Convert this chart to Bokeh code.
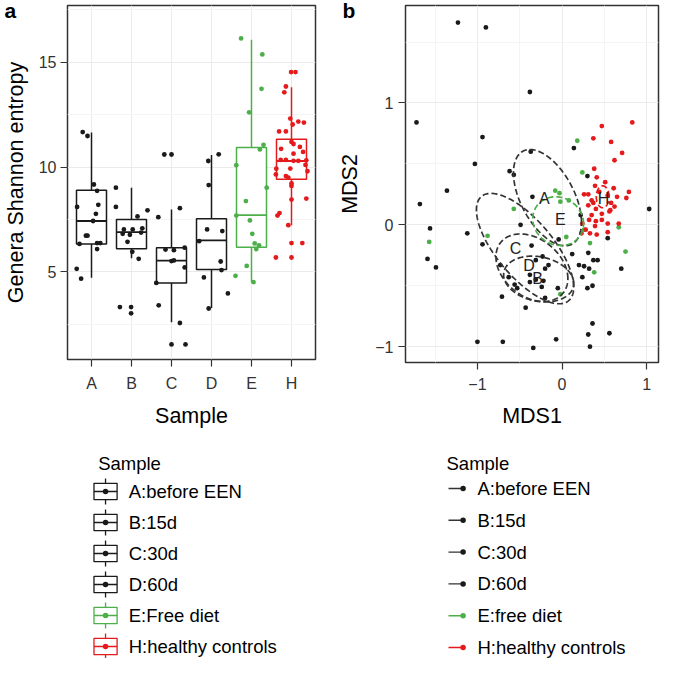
import numpy as np
from bokeh.plotting import figure
from bokeh.models import FixedTicker, Range1d, Title, ColumnDataSource
from bokeh.layouts import row, column
from bokeh.embed import file_html
from bokeh.resources import INLINE
from bokeh.core.properties import value

FONT = "Liberation Sans"
INK = "#1a1a1a"
GREEN = "#4DAF4A"
RED = "#E41A1C"
BORDER = "#333333"
GRID = "#EBEBEB"
GRID_MINOR = "#F4F4F4"

# ---------------- data ----------------
categories = ["A", "B", "C", "D", "E", "H"]
legend_a_labels = ["A:before EEN", "B:15d", "C:30d", "D:60d", "E:Free diet", "H:healthy controls"]
legend_b_labels = ["A:before EEN", "B:15d", "C:30d", "D:60d", "E:free diet", "H:healthy controls"]
group_colors = [INK, INK, INK, INK, GREEN, RED]

# box-plot statistics (Genera Shannon entropy)
lower_whisker = [4.72, 5.66, 2.60, 3.29, 4.51, 7.23]
q1 = [6.34, 6.11, 4.48, 5.12, 6.18, 9.42]
median = [7.43, 6.90, 5.54, 6.51, 7.71, 10.29]
q3 = [8.89, 7.50, 6.16, 7.54, 10.93, 11.33]
upper_whisker = [11.65, 9.02, 7.98, 10.58, 16.07, 13.81]

# individual samples (value, horizontal jitter in category units)
entropy_A = [11.67, 11.48, 9.17, 8.87, 8.20, 8.10, 7.77, 7.43, 6.73, 6.73, 6.34, 6.38, 6.38, 6.09, 5.15, 4.68]
jitter_A = [-0.22, -0.10, 0.06, 0.14, 0.17, -0.36, 0.11, 0.04, -0.14, -0.10, -0.30, 0.14, 0.22, 0.14, -0.37, -0.26]
entropy_B = [9.02, 8.10, 7.94, 7.65, 7.03, 7.03, 7.08, 6.88, 6.82, 6.77, 6.44, 5.96, 5.63, 3.33, 3.33, 3.03]
jitter_B = [-0.39, -0.39, 0.40, 0.15, -0.19, 0.03, 0.27, 0.24, -0.22, -0.04, -0.10, 0.02, 0.18, -0.29, -0.01, -0.01]
entropy_C = [10.60, 10.60, 8.04, 7.61, 6.07, 6.04, 6.16, 5.52, 5.55, 5.22, 4.48, 3.41, 2.57, 1.55, 1.55]
jitter_C = [-0.18, 0.00, 0.21, -0.33, -0.15, 0.06, 0.33, 0.00, 0.06, 0.33, -0.38, -0.32, 0.21, 0.00, 0.35]
entropy_D = [10.29, 10.61, 9.14, 7.03, 6.95, 6.47, 5.50, 5.09, 4.74, 3.98, 3.26]
jitter_D = [-0.08, 0.18, -0.07, -0.11, 0.27, -0.31, 0.23, 0.25, -0.19, 0.41, -0.07]
entropy_E = [16.13, 15.37, 13.73, 12.61, 11.06, 10.84, 10.09, 9.02, 8.38, 7.69, 7.46, 6.82, 6.36, 6.27, 6.09, 5.29, 4.82, 4.52]
jitter_E = [-0.26, 0.27, 0.25, -0.06, 0.30, 0.21, -0.38, 0.38, -0.14, -0.38, -0.04, 0.02, 0.08, 0.19, 0.12, -0.12, -0.40, 0.05]
entropy_H = [14.53, 14.53, 13.84, 13.56, 12.31, 12.17, 12.12, 12.03, 11.70, 11.70, 11.20, 11.10, 10.96,
             10.87, 10.72, 10.64, 10.34, 10.34, 10.30, 10.30, 10.32, 10.10, 9.92, 9.93, 9.80, 9.65, 9.57,
             9.50, 9.22, 9.10, 8.45, 8.50, 7.81, 7.69, 7.23, 6.38, 6.38, 5.69, 5.69]
jitter_H = [-0.01, 0.10, -0.14, -0.18, -0.03, 0.17, 0.31, 0.03, -0.31, -0.14, 0.00, 0.05, 0.21,
            -0.26, 0.29, 0.05, -0.27, -0.14, 0.05, 0.17, 0.37, 0.35, -0.38, -0.03, 0.40, -0.39, -0.14,
            -0.08, 0.00, 0.00, 0.00, 0.37, -0.30, -0.35, -0.08, 0.00, 0.27, -0.39, 0.00]

# MDS ordination (samples A-D drawn black, E green, H red)
mds1_AD = [-1.23, -0.90, -0.38, -1.72, -0.94, 0.14, -0.37, -1.03, -0.62, -0.57, 0.30, -1.36, -0.35,
           -1.68, 1.03, 0.22, -0.49, -1.56, -1.12, -1.59, -1.49, -0.94, -0.36, -0.04, 0.12, 0.31,
           0.54, 0.70, -0.23, -0.31, -0.16, -0.20, -0.73, -0.63, -0.38, -0.31, -0.22, -0.38, -0.24,
           -0.05, -0.56, -0.53, -0.20, 0.37, 0.42, 0.20, 0.26, 0.32, 0.24, 0.36, 0.30, -0.71, -0.43,
           0.36, 0.31, 0.56, -0.07, -1.00, -0.70, -0.34, 0.33]
mds2_AD = [1.66, 1.62, 1.09, 0.84, 0.72, 0.63, 0.60, 0.50, 0.44, 0.41, 0.40, 0.28, 0.23,
           0.17, 0.13, 0.08, 0.00, -0.03, -0.07, -0.28, -0.35, -0.16, -0.17, -0.12, -0.24, -0.23,
           -0.11, -0.36, -0.26, -0.29, -0.33, -0.36, -0.33, -0.43, -0.41, -0.45, -0.46, -0.47, -0.51,
           -0.52, -0.49, -0.52, -0.60, -0.29, -0.29, -0.33, -0.34, -0.36, -0.43, -0.50, -0.52, -0.59, -0.68,
           -0.81, -0.90, -0.89, -0.94, -0.96, -0.96, -1.01, -1.00]
mds1_E = [0.18, 0.24, -0.08, -0.03, -0.02, 0.08, -0.57, 0.67, -0.88, -1.57, 0.05, 0.33, 0.75, 0.38, -0.02, 0.26]
mds2_E = [0.69, 0.43, 0.28, 0.26, 0.19, 0.20, 0.13, -0.02, -0.09, -0.14, -0.10, -0.15, -0.22, -0.39, -0.57, -0.04]
mds1_H = [0.83, 0.47, 0.37, 0.58, 0.71, 0.62, 0.38, 0.41, 0.51, 0.39, 0.61, 0.79, 0.76, 0.26, 0.31,
          0.44, 0.54, 0.65, 0.35, 0.31, 0.40, 0.56, 0.62, 0.47, 0.35, 0.32, 0.40, 0.47, 0.54, 0.67,
          0.23, 0.33, 0.41, 0.54, 0.37, 0.39, 0.28, 0.58, 0.24, 0.57]
mds2_H = [0.84, 0.81, 0.71, 0.68, 0.59, 0.53, 0.46, 0.39, 0.35, 0.32, 0.30, 0.27, 0.22, 0.25, 0.25,
          0.27, 0.24, 0.23, 0.20, 0.16, 0.13, 0.11, 0.15, 0.09, 0.08, 0.04, 0.03, 0.04, 0.01, 0.01,
          -0.07, -0.07, -0.08, -0.06, 0.18, -0.01, -0.04, 0.18, 0.01, 0.12]

# group ellipses (centre, half-extents, correlation) and label positions
ell_groups = ["A", "B", "C", "D", "E", "H"]
ell_cx = [-0.172, -0.276, -0.437, -0.356, -0.046, 0.48]
ell_cy = [0.223, -0.445, -0.195, -0.352, 0.03, 0.23]
ell_hx = [0.402, 0.414, 0.575, 0.425, 0.30, 0.075]
ell_hy = [0.395, 0.188, 0.453, 0.277, 0.20, 0.09]
ell_r = [-0.514, -0.19, -0.70, -0.32, -0.10, 0.0]
label_x = [-0.21, -0.29, -0.55, -0.39, -0.02, 0.49]
label_y = [0.22, -0.44, -0.195, -0.33, 0.045, 0.22]

# ---------------- layout constants ----------------
W = 330
PLOT_H = 430
LEG_H = 228
A_LEFT, A_RIGHT, A_TOP, A_BOTTOM = 64, 15, 5, 66
B_LEFT, B_RIGHT, B_TOP, B_BOTTOM = 75, 2, 5, 59


def style_axes(p):
    for ax in p.axis:
        ax.axis_line_color = None
        ax.major_tick_line_color = BORDER
        ax.major_tick_line_width = 1.2
        ax.major_tick_out = 7
        ax.major_tick_in = 0
        ax.minor_tick_line_color = None
        ax.major_label_text_font = FONT
        ax.major_label_text_font_size = "16px"
        ax.major_label_text_color = "#333333"
        ax.axis_label_text_font = FONT
        ax.axis_label_text_font_size = "21.5px"
        ax.axis_label_text_font_style = "normal"
        ax.axis_label_text_color = "#000000"
    p.outline_line_color = BORDER
    p.outline_line_width = 1.5
    p.grid.grid_line_color = GRID
    p.grid.grid_line_width = 1
    p.grid.minor_grid_line_color = GRID_MINOR
    p.grid.minor_grid_line_width = 1
    p.background_fill_color = "white"
    p.border_fill_color = "white"


def panel_letter(p, letter, left_border, x):
    kw = dict(text=letter, align="left", offset=x - left_border, text_font=FONT,
              text_font_size="21px", text_font_style="bold", text_color="#000000",
              vertical_align="bottom")
    try:
        t = Title(standoff=-33, **kw)
    except Exception:
        t = Title(standoff=0, **kw)
    p.add_layout(t, "above")


# ---------------- panel a ----------------
pa = figure(width=W, height=PLOT_H, x_range=Range1d(0.4, 6.6), y_range=Range1d(0.83, 17.7),
            output_backend="svg", toolbar_location=None,
            min_border_left=A_LEFT, min_border_right=A_RIGHT, min_border_top=A_TOP, min_border_bottom=A_BOTTOM)
style_axes(pa)
pos = list(range(1, len(categories) + 1))
pa.xaxis.ticker = FixedTicker(ticks=pos, minor_ticks=[])
pa.xaxis.major_label_overrides = {i: c for i, c in zip(pos, categories)}
pa.yaxis.ticker = FixedTicker(ticks=[5, 10, 15], minor_ticks=[2.5, 7.5, 12.5, 17.5])
pa.xgrid.minor_grid_line_color = None
pa.xaxis.axis_label = "Sample"
pa.yaxis.axis_label = "Genera Shannon entropy"
pa.xaxis.major_label_standoff = 8
pa.yaxis.major_label_standoff = 4
pa.xaxis.axis_label_standoff = 9
pa.yaxis.axis_label_standoff = 8

bw = 0.375
box_src = ColumnDataSource(dict(
    x=pos, left=[p - bw for p in pos], right=[p + bw for p in pos],
    lw=lower_whisker, q1=q1, med=median, q3=q3, uw=upper_whisker, color=group_colors))
pa.segment(x0="x", y0="q3", x1="x", y1="uw", source=box_src, line_color="color", line_width=1.5)
pa.segment(x0="x", y0="lw", x1="x", y1="q1", source=box_src, line_color="color", line_width=1.5)
pa.quad(left="left", right="right", bottom="q1", top="q3", source=box_src,
        fill_color="white", line_color="color", line_width=1.5)
pa.segment(x0="left", y0="med", x1="right", y1="med", source=box_src, line_color="color", line_width=1.8)

groups_vals = [entropy_A, entropy_B, entropy_C, entropy_D, entropy_E, entropy_H]
groups_jit = [jitter_A, jitter_B, jitter_C, jitter_D, jitter_E, jitter_H]
for i, (vals, jit) in enumerate(zip(groups_vals, groups_jit)):
    xs = [pos[i] + j for j in jit]
    pa.scatter(xs, vals, size=4.8, color=group_colors[i], line_color=None)

panel_letter(pa, "a", A_LEFT, 1)

# ---------------- panel b ----------------
pb = figure(width=W, height=PLOT_H, x_range=Range1d(-1.85, 1.14), y_range=Range1d(-1.13, 1.80),
            output_backend="svg", toolbar_location=None,
            min_border_left=B_LEFT, min_border_right=B_RIGHT, min_border_top=B_TOP, min_border_bottom=B_BOTTOM)
style_axes(pb)
pb.xaxis.ticker = FixedTicker(ticks=[-1, 0, 1], minor_ticks=[-1.5, -0.5, 0.5])
pb.yaxis.ticker = FixedTicker(ticks=[-1, 0, 1], minor_ticks=[-0.5, 0.5, 1.5])
pb.xaxis.major_label_overrides = {-1: "\u22121", 0: "0", 1: "1"}
pb.yaxis.major_label_overrides = {-1: "\u22121", 0: "0", 1: "1"}
pb.xaxis.axis_label = "MDS1"
pb.yaxis.axis_label = "MDS2"
pb.xaxis.major_label_standoff = 8
pb.yaxis.major_label_standoff = 5
pb.xaxis.axis_label_standoff = 11
pb.yaxis.axis_label_standoff = 10

pb.scatter(mds1_AD, mds2_AD, size=4.8, color=INK, line_color=None)
pb.scatter(mds1_E, mds2_E, size=4.8, color=GREEN, line_color=None)
pb.scatter(mds1_H, mds2_H, size=4.8, color=RED, line_color=None)

t = np.linspace(0, 2 * np.pi, 240)
ell_xs, ell_ys, ell_col = [], [], []
for g, cx, cy, hx, hy, r, col in zip(ell_groups, ell_cx, ell_cy, ell_hx, ell_hy, ell_r, group_colors):
    d = np.arccos(r)
    ell_xs.append(list(cx + hx * np.cos(t)))
    ell_ys.append(list(cy + hy * np.cos(t - d)))
    ell_col.append("#333333" if col == INK else col)
pb.multi_line(xs=ell_xs, ys=ell_ys, line_color=ell_col, line_width=1.7, line_dash="6 3")

pb.text(x=label_x, y=label_y, text=ell_groups, text_font=value(FONT), text_font_size="16px",
        text_align="center", text_baseline="middle", text_color="#222222")

panel_letter(pb, "b", B_LEFT, 12)


# ---------------- legends (frames are aligned with the plots above) ----------------
def legend_fig(left, right):
    f = figure(width=W, height=LEG_H, x_range=Range1d(left, W - right), y_range=Range1d(LEG_H, 0),
               x_axis_type=None, y_axis_type=None, output_backend="svg", toolbar_location=None,
               min_border_left=left, min_border_right=right, min_border_top=0, min_border_bottom=0)
    f.grid.visible = False
    f.outline_line_color = None
    return f


n = len(categories)
la = legend_fig(A_LEFT, A_RIGHT)
rows_a = [61 + 31 * i for i in range(n)]
la.text(x=[95], y=[32.6], text=["Sample"], text_font=value(FONT), text_font_size="18.5px",
        text_baseline="middle", text_color="#000000")
icon_cx = 102.5
la.segment(x0=[icon_cx] * n, y0=[y - 13 for y in rows_a], x1=[icon_cx] * n, y1=[y + 13 for y in rows_a],
           line_color=group_colors, line_width=1.3)
la.quad(left=[icon_cx - 11.7] * n, right=[icon_cx + 11.7] * n, top=[y - 8.2 for y in rows_a],
        bottom=[y + 8.2 for y in rows_a], fill_color="white", line_color=group_colors, line_width=1.3)
la.segment(x0=[icon_cx - 11.7] * n, y0=rows_a, x1=[icon_cx + 11.7] * n, y1=rows_a,
           line_color=group_colors, line_width=1.3)
la.scatter([icon_cx] * n, rows_a, size=5.5, color=group_colors, line_color=None)
la.text(x=[126] * n, y=rows_a, text=legend_a_labels, text_font=value(FONT), text_font_size="18.5px",
        text_baseline="middle", text_color="#000000")

lb = legend_fig(B_LEFT, B_RIGHT)
rows_b = [58 + 31.8 * i for i in range(n)]
lb.text(x=[116], y=[32.6], text=["Sample"], text_font=value(FONT), text_font_size="18.5px",
        text_baseline="middle", text_color="#000000")
line_cols = ["#333333"] * 4 + [GREEN, RED]
lb.segment(x0=[118] * n, y0=rows_b, x1=[132.6] * n, y1=rows_b, line_color=line_cols, line_width=1.4)
lb.scatter([132.6] * n, rows_b, size=5.5, color=group_colors, line_color=None)
lb.text(x=[147] * n, y=rows_b, text=legend_b_labels, text_font=value(FONT), text_font_size="18.5px",
        text_baseline="middle", text_color="#000000")

layout = row(column(pa, la), column(pb, lb))
open("out.html", "w").write(file_html(layout, INLINE))
